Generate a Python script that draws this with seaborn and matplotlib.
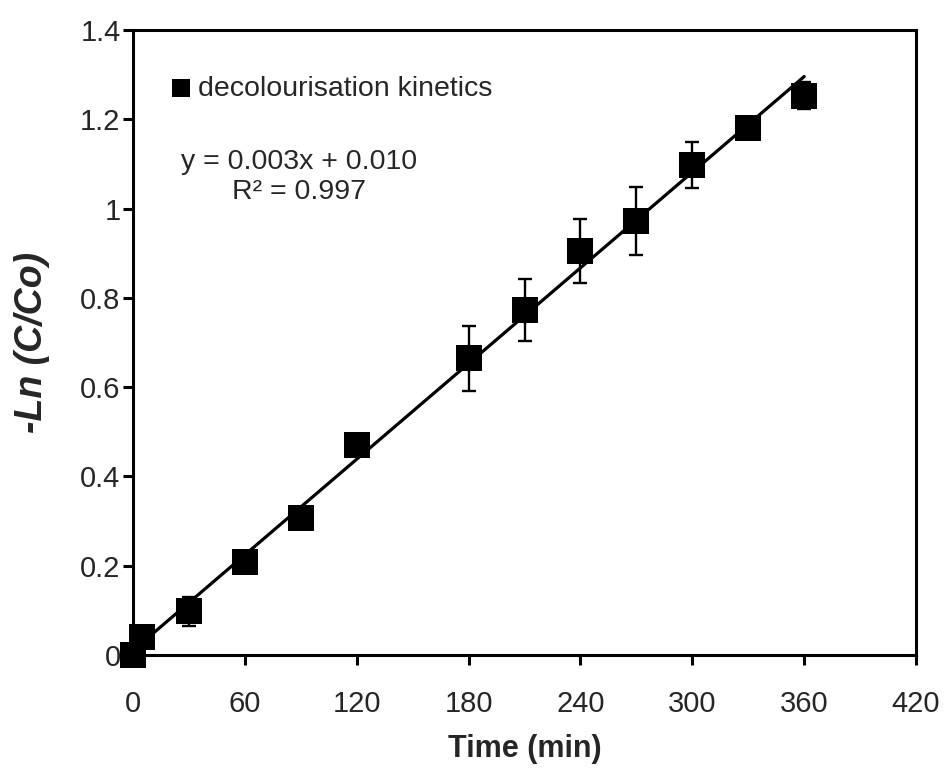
import numpy as np
import pandas as pd
import matplotlib
matplotlib.use("Agg")
import matplotlib.pyplot as plt
import seaborn as sns

# data
time_min = [0, 5, 30, 60, 90, 120, 180, 210, 240, 270, 300, 330, 360]
ln_ratio = [0.0, 0.04, 0.098, 0.209, 0.308, 0.470, 0.665, 0.773, 0.905, 0.972, 1.097, 1.180, 1.253]
ln_err = [0.0, 0.005, 0.032, 0.008, 0.010, 0.018, 0.073, 0.070, 0.072, 0.077, 0.052, 0.008, 0.031]
x_ticks = [0, 60, 120, 180, 240, 300, 360, 420]
y_ticks = [0, 0.2, 0.4, 0.6, 0.8, 1.0, 1.2, 1.4]
y_tick_labels = ["0", "0.2", "0.4", "0.6", "0.8", "1", "1.2", "1.4"]

df = pd.DataFrame({"time": time_min, "ln": ln_ratio, "err": ln_err})

sns.set_style("ticks")
plt.rcParams["font.family"] = ["Liberation Sans", "DejaVu Sans"]

fig = plt.figure(figsize=(9.48, 7.77), dpi=100)
ax = fig.add_axes([0.1403, 0.157, 0.826, 0.8044])

# fitted line
sns.regplot(data=df, x="time", y="ln", scatter=False, ci=None, truncate=True,
            color="black", line_kws={"linewidth": 2.3}, ax=ax)

# error bars
ax.errorbar(df["time"], df["ln"], yerr=df["err"], fmt="none", ecolor="black",
            elinewidth=1.7, capsize=5, capthick=1.7, zorder=3, clip_on=False)

# points
sns.scatterplot(data=df, x="time", y="ln", marker="s", s=330, color="black",
                edgecolor="black", linewidth=0, label="decolourisation kinetics",
                zorder=4, clip_on=False, ax=ax)

ax.set_xlim(0, 420)
ax.set_ylim(0, 1.4)
ax.set_xticks(x_ticks)
ax.set_yticks(y_ticks)
ax.set_yticklabels(y_tick_labels)
ax.tick_params(axis="both", labelsize=21, width=2.2, length=7, color="black")
ax.tick_params(axis="x", pad=18)
ax.tick_params(axis="y", pad=2)
for sp in ax.spines.values():
    sp.set_linewidth(2.2)
    sp.set_color("black")

ax.set_xlabel("Time (min)", fontsize=22, fontweight="bold", labelpad=12)
ax.set_ylabel("-Ln (C/Co)", fontsize=27, fontweight="bold", fontstyle="italic", labelpad=22)

leg = ax.legend(loc="upper left", bbox_to_anchor=(0.049, 0.927), frameon=False,
                fontsize=20.5, handletextpad=0.25, handlelength=0.7,
                borderaxespad=0, borderpad=0, markerscale=0.75)

ax.text(0.212, 0.789, "y = 0.003x + 0.010", transform=ax.transAxes,
        ha="center", va="center", fontsize=20.5)
ax.text(0.212, 0.741, "R\u00b2 = 0.997", transform=ax.transAxes,
        ha="center", va="center", fontsize=20.5)

fig.savefig("out.png", dpi=100)
